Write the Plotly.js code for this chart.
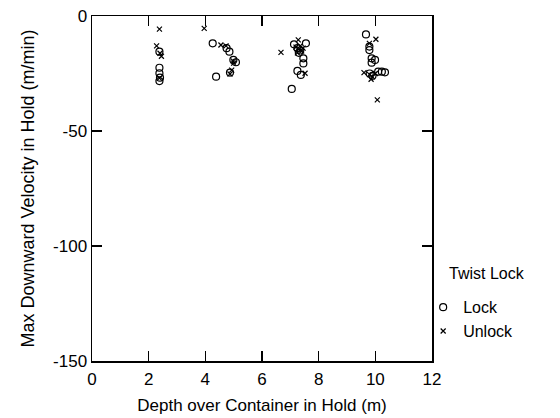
<!DOCTYPE html>
<html>
<head>
<meta charset="utf-8">
<script src="https://cdn.plot.ly/plotly-3.0.1.min.js"></script>
<style>html,body{margin:0;padding:0;background:#fff;}#chart{width:560px;height:418px;}</style>
</head>
<body>
<div id="chart"></div>
<script>
const lockX = [2.38, 2.38, 2.38, 2.40, 2.38,
  4.26, 4.85, 4.99, 5.08, 4.38, 4.87, 4.75,
  7.13, 7.55, 7.25, 7.35, 7.46, 7.46, 7.25, 7.37, 7.05, 7.30,
  9.67, 9.79, 9.79, 9.87, 9.99, 9.87, 10.10, 10.23, 10.34, 9.90, 9.80];
const lockY = [-15.5, -22.5, -24.9, -26.8, -28.3,
  -11.9, -15.5, -19.1, -20.1, -26.4, -24.6, -14.0,
  -12.3, -11.9, -14.0, -15.0, -18.4, -20.6, -23.9, -25.6, -31.7, -16.0,
  -8.0, -13.3, -14.8, -18.4, -19.1, -20.3, -24.2, -24.2, -24.5, -26.0, -25.0];
const unlockX = [2.38, 2.28, 2.40, 2.45, 2.38,
  3.96, 4.55, 4.73, 4.99, 4.93, 4.87, 5.00,
  6.67, 7.28, 7.20, 7.30, 7.40, 7.25, 7.45, 7.52, 7.35,
  10.02, 9.79, 9.60, 9.80, 9.90, 10.00, 9.85, 10.07];
const unlockY = [-5.7, -13.0, -16.2, -17.5, -27.0,
  -5.4, -12.6, -13.0, -19.6, -23.5, -25.2, -20.5,
  -15.8, -10.4, -13.5, -14.5, -15.2, -16.0, -14.0, -24.9, -13.0,
  -10.1, -11.9, -24.6, -25.5, -26.5, -25.0, -27.5, -36.5];

const xTickVals = [0, 2, 4, 6, 8, 10, 12];
const xTickText = ['0', '2', '4', '6', '8', '10', '12'];
const yTickVals = [0, -50, -100, -150];
const yTickText = ['0', '-50', '-100', '-150'];
const legendTitle = 'Twist Lock';

const font = {family: 'Liberation Sans, Arial, sans-serif', color: '#000'};

const traces = [
  {x: lockX, y: lockY, mode: 'markers', type: 'scatter', name: 'Lock',
   marker: {symbol: 'circle-open', size: 7, color: '#000', line: {width: 1.2, color: '#000'}}},
  {x: unlockX, y: unlockY, mode: 'markers', type: 'scatter', name: 'Unlock',
   marker: {symbol: 'x-thin-open', size: 5, color: '#000', line: {width: 1.2, color: '#000'}}}
];

const axisCommon = {
  showline: true, linecolor: '#000', linewidth: 1.5, mirror: 'ticks',
  ticks: 'inside', ticklen: 10, tickwidth: 1.5, tickcolor: '#000',
  showgrid: false, zeroline: false,
  tickfont: Object.assign({size: 17}, font)
};

const layout = {
  width: 560, height: 418,
  margin: {l: 92, r: 128, t: 16, b: 57},
  paper_bgcolor: '#fff', plot_bgcolor: '#fff',
  font: font,
  xaxis: Object.assign({}, axisCommon, {
    range: [0, 12], tickmode: 'array', tickvals: xTickVals, ticktext: xTickText,
    ticklabelstandoff: 2,
    title: {text: 'Depth over Container in Hold (m)', font: Object.assign({size: 17}, font), standoff: 11}
  }),
  yaxis: Object.assign({}, axisCommon, {
    range: [-150, 0], tickmode: 'array', tickvals: yTickVals, ticktext: yTickText,
    title: {text: 'Max Downward Velocity in Hold (m/min)', font: Object.assign({size: 18}, font), standoff: 14}
  }),
  showlegend: true,
  legend: {
    x: 0.974, y: 0.205, xanchor: 'left', yanchor: 'top',
    font: Object.assign({size: 16}, font),
    bgcolor: 'rgba(0,0,0,0)', itemwidth: 30, tracegroupgap: 0
  },
  annotations: [{
    text: legendTitle, xref: 'paper', yref: 'paper', x: 1.043, y: 0.255,
    xanchor: 'left', yanchor: 'middle', showarrow: false,
    font: Object.assign({size: 16}, font)
  }]
};

Plotly.newPlot('chart', traces, layout, {displayModeBar: false, staticPlot: true});
</script>
</body>
</html>
